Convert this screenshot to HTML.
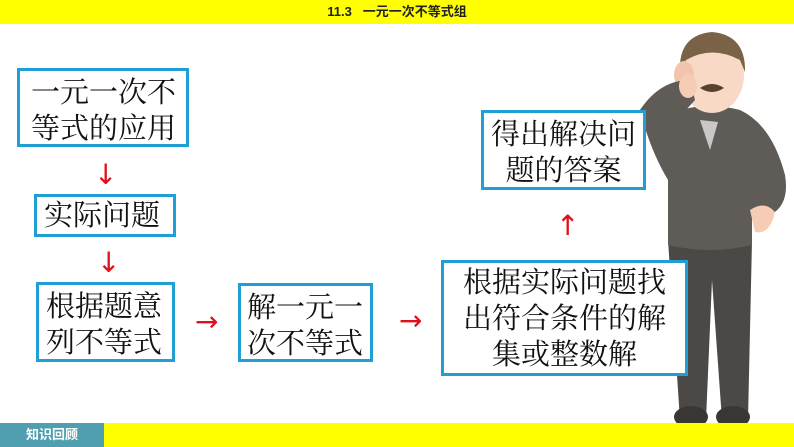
<!DOCTYPE html>
<html><head><meta charset="utf-8"><style>
body{margin:0;width:794px;height:447px;position:relative;overflow:hidden;background:#fff;font-family:"Liberation Sans","Noto Sans CJK SC",sans-serif}
.b{position:absolute;border:3px solid #1f9fd6;background:#fff;box-sizing:border-box;font-size:29px;line-height:36px;color:#111;font-family:"Liberation Serif","Noto Serif CJK SC",serif}
.a{position:absolute;color:#e0101a;font-size:28px;line-height:28px;font-family:"DejaVu Sans",sans-serif}
</style></head><body>
<div style="position:absolute;left:0;top:0;width:794px;height:24px;background:#ffff00;text-align:center;font-size:13px;line-height:24px;font-weight:bold;color:#222">11.3&nbsp;&nbsp;&nbsp;一元一次不等式组</div>
<svg style="position:absolute;left:0;top:0" width="794" height="447">
<!-- legs -->
<path d="M668 240 L752 240 L748 420 L722 420 L712 280 L706 420 L680 420 Z" fill="#4b4845"/>
<ellipse cx="691" cy="417" rx="17" ry="11" fill="#3a3633"/>
<ellipse cx="733" cy="417" rx="17" ry="11" fill="#3a3633"/>
<!-- body -->
<path d="M668 115 Q700 100 740 110 Q772 125 785 175 Q790 205 770 215 L752 215 L752 245 Q710 255 668 245 L668 180 Q650 150 640 110 Q650 95 668 115 Z" fill="#5f5b57"/>
<path d="M700 120 L710 150 L718 122 Z" fill="#c8c8c8"/>
<path d="M750 210 Q765 200 775 212 Q770 235 755 232 Z" fill="#f5cdb4"/>
<!-- head -->
<ellipse cx="712" cy="75" rx="32" ry="38" fill="#f7d9c6"/>
<path d="M680 72 Q678 35 712 32 Q746 35 745 72 L740 60 Q712 45 686 60 Z" fill="#7a6249"/>
<path d="M700 88 Q712 80 724 88 Q712 96 700 88Z" fill="#5a4130"/>
<ellipse cx="684" cy="75" rx="10" ry="14" fill="#f2c4ab"/>
<path d="M640 110 Q660 80 690 80 L695 100 L668 130 Z" fill="#5f5b57"/>
<ellipse cx="688" cy="86" rx="9" ry="12" fill="#f5cdb4"/>
</svg>
<div class="b" style="left:17px;top:68px;width:172px;height:79px;padding:4px 0 0 11px">一元一次不<br>等式的应用</div>
<div class="b" style="left:34px;top:194px;width:142px;height:43px;padding:1px 0 0 7px;line-height:36px">实际问题</div>
<div class="b" style="left:36px;top:282px;width:139px;height:80px;padding:4px 0 0 7px">根据题意<br>列不等式</div>
<div class="b" style="left:238px;top:283px;width:135px;height:79px;padding:4px 0 0 6px">解一元一<br>次不等式</div>
<div class="b" style="left:441px;top:260px;width:247px;height:116px;padding:2px 0 0 0;text-align:center">根据实际问题找<br>出符合条件的解<br>集或整数解</div>
<div class="b" style="left:481px;top:110px;width:165px;height:80px;padding:4px 0 0 0;text-align:center">得出解决问<br>题的答案</div>
<div class="a" style="left:94px;top:161px">↓</div>
<div class="a" style="left:97px;top:249px">↓</div>
<div class="a" style="left:195px;top:308px">→</div>
<div class="a" style="left:399px;top:307px">→</div>
<div class="a" style="left:556px;top:212px">↑</div>
<div style="position:absolute;left:0;top:423px;width:104px;height:24px;background:#4f9fb0;color:#fff;font-size:13px;line-height:24px;text-align:center;font-weight:bold">知识回顾</div>
<div style="position:absolute;left:104px;top:423px;width:690px;height:24px;background:#ffff00"></div>
</body></html>
